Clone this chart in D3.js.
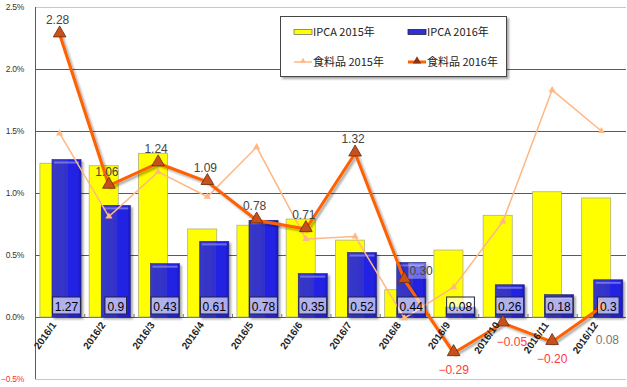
<!DOCTYPE html>
<html>
<head>
<meta charset="utf-8">
<script src="https://cdn.jsdelivr.net/npm/d3@7"></script>
<style>
  body { margin: 0; background: #fff; }
  svg { display: block; font-family: "Liberation Sans", Arial, sans-serif; }
</style>
</head>
<body>
<svg width="627" height="387"></svg>
<script>
// data
var months = ['2016/1', '2016/2', '2016/3', '2016/4', '2016/5', '2016/6',
              '2016/7', '2016/8', '2016/9', '2016/10', '2016/11', '2016/12'];
var ipca2015 = [1.24, 1.22, 1.32, 0.71, 0.74, 0.79, 0.62, 0.22, 0.54, 0.82, 1.01, 0.96];
var ipca2016 = [1.27, 0.9, 0.43, 0.61, 0.78, 0.35, 0.52, 0.44, 0.08, 0.26, 0.18, 0.3];
var food2015 = [1.48, 0.81, 1.17, 0.97, 1.37, 0.63, 0.65, -0.01, 0.24, 0.77, 1.83, 1.50];
var food2016 = [2.28, 1.06, 1.24, 1.09, 0.78, 0.71, 1.32, 0.30, -0.29, -0.05, -0.20, 0.08];
var yTicks = [-0.5, 0, 0.5, 1.0, 1.5, 2.0, 2.5];
var seriesNames = ['IPCA 2015年', 'IPCA 2016年', '食料品 2015年', '食料品 2016年'];

var svg = d3.select('svg');

// shadow filter + blue bar gradient
var defs = svg.append('defs');
var f = defs.append('filter').attr('id', 'shadow')
    .attr('x', '-20%').attr('y', '-20%').attr('width', '150%').attr('height', '150%');
f.append('feDropShadow').attr('dx', 2).attr('dy', 2).attr('stdDeviation', 1.2)
    .attr('flood-color', '#000').attr('flood-opacity', 0.35);

var g1 = defs.append('linearGradient').attr('id', 'blueGrad')
    .attr('x1', '0%').attr('x2', '100%').attr('y1', '0%').attr('y2', '0%');
g1.append('stop').attr('offset', '0%').attr('stop-color', '#3838c4');
g1.append('stop').attr('offset', '55%').attr('stop-color', '#3232cc');
g1.append('stop').attr('offset', '56%').attr('stop-color', '#2424e6');
g1.append('stop').attr('offset', '90%').attr('stop-color', '#2020e0');
g1.append('stop').attr('offset', '100%').attr('stop-color', '#1c1cc0');

// scales
var x = d3.scaleBand().domain(months).range([35, 626]).padding(0);
var y = d3.scaleLinear().domain([-0.5, 2.5]).range([379, 7]);
var bw = x.bandwidth();
var cx = function(i) { return x(months[i]) + bw / 2; };

// gridlines
svg.append('g').selectAll('line')
    .data(yTicks)
    .enter().append('line')
    .attr('x1', 35).attr('x2', 626)
    .attr('y1', d => Math.round(y(d)) + 0.5)
    .attr('y2', d => Math.round(y(d)) + 0.5)
    .attr('stroke', d => (d === 2.5 || d === -0.5) ? '#c8c8c8' : '#5a5a5a')
    .attr('stroke-width', 1);

// left axis line
svg.append('line')
    .attr('x1', 35.5).attr('x2', 35.5).attr('y1', y(2.5)).attr('y2', y(-0.5))
    .attr('stroke', '#5a5a5a');

// y labels
var yAxis = d3.axisLeft(y).tickValues(yTicks).tickSize(0).tickPadding(11)
    .tickFormat(d => d3.format('.1f')(d) + '%');
var ya = svg.append('g').attr('transform', 'translate(35,0)').call(yAxis);
ya.select('.domain').remove();
ya.selectAll('text')
    .attr('font-size', 8.5)
    .attr('letter-spacing', -0.3)
    .attr('font-family', '"Liberation Sans", Arial, sans-serif')
    .attr('fill', d => d < 0 ? '#ff3030' : '#333');

// small ticks at category boundaries
svg.append('g').selectAll('line')
    .data(months.slice(1))
    .enter().append('line')
    .attr('x1', d => x(d) + 0.5).attr('x2', d => x(d) + 0.5)
    .attr('y1', y(0) - 3).attr('y2', y(0))
    .attr('stroke', '#777');

// yellow bars (2015)
svg.append('g').selectAll('rect')
    .data(ipca2015)
    .enter().append('rect')
    .attr('x', (d, i) => x(months[i]) + bw * 0.1)
    .attr('width', bw * 0.59)
    .attr('y', d => y(d))
    .attr('height', d => y(0) - y(d))
    .attr('fill', '#ffff00')
    .attr('stroke', '#b0b080')
    .attr('stroke-width', 0.8);

// blue bars (2016)
var blue = svg.append('g').selectAll('g')
    .data(ipca2016)
    .enter().append('g');
blue.append('rect')
    .attr('x', (d, i) => x(months[i]) + bw * 0.345)
    .attr('width', bw * 0.59)
    .attr('y', d => y(d))
    .attr('height', d => y(0) - y(d))
    .attr('fill', 'url(#blueGrad)')
    .attr('stroke', '#22227a')
    .attr('stroke-width', 0.6)
    .attr('filter', 'url(#shadow)');
blue.append('rect')
    .attr('x', (d, i) => x(months[i]) + bw * 0.345 + 2)
    .attr('width', bw * 0.59 - 4)
    .attr('y', d => y(d) + 2)
    .attr('height', 2)
    .attr('fill', '#8c8cf0')
    .attr('opacity', 0.7);

// lines
var line = d3.line()
    .x((d, i) => cx(i))
    .y(d => y(d));

svg.append('path')
    .datum(food2015)
    .attr('d', line)
    .attr('fill', 'none')
    .attr('stroke', '#ffb784')
    .attr('stroke-width', 1.5);

var tri = d3.symbol().type(d3.symbolTriangle);
svg.append('g').selectAll('path')
    .data(food2015)
    .enter().append('path')
    .attr('d', tri.size(22)())
    .attr('transform', (d, i) => 'translate(' + cx(i) + ',' + y(d) + ')')
    .attr('fill', '#ffb784');

svg.append('path')
    .datum(food2016)
    .attr('d', line)
    .attr('fill', 'none')
    .attr('stroke', '#ff6000')
    .attr('stroke-width', 3)
    .attr('stroke-linejoin', 'round')
    .attr('filter', 'url(#shadow)');

svg.append('g').selectAll('path')
    .data(food2016)
    .enter().append('path')
    .attr('d', tri.size(70)())
    .attr('transform', (d, i) => 'translate(' + cx(i) + ',' + (y(d) - 1) + ')')
    .attr('fill', '#c8501a')
    .attr('stroke', '#6a2a10')
    .attr('stroke-width', 0.8);

// value boxes on the blue bars
var boxes = svg.append('g').selectAll('g')
    .data(ipca2016)
    .enter().append('g')
    .attr('transform', (d, i) => 'translate(' + (x(months[i]) + bw * 0.345 + bw * 0.295) + ',' + (y(0) - 11) + ')');
boxes.each(function(d) {
    var gg = d3.select(this);
    var txt = String(d);
    var w = txt.length * 6.2 + 3;
    gg.append('rect')
        .attr('x', -w / 2).attr('y', -9).attr('width', w).attr('height', 17)
        .attr('fill', 'rgba(255,255,255,0.62)')
        .attr('stroke', '#202040')
        .attr('stroke-width', 1);
    gg.append('text')
        .attr('text-anchor', 'middle').attr('y', 4.5)
        .attr('font-size', 12).attr('fill', '#000')
        .text(txt);
});

// labels of the food 2016 line
function labelPlace(i, d) {
    if (i === 11) return { dx: 6, dy: 37, anchor: 'middle' };
    if (i === 7) return { dx: 5, dy: -5, anchor: 'start' };
    if (d < 0) return { dx: i === 9 ? 9 : 0, dy: d > -0.1 ? 23 : 21, anchor: 'middle' };
    return { dx: -2, dy: -10, anchor: 'middle' };
}
var lab = svg.append('g').selectAll('g')
    .data(food2016)
    .enter().append('g');
lab.each(function(d, i) {
    var p = labelPlace(i, d);
    var gg = d3.select(this);
    var tx = cx(i) + p.dx, ty = y(d) + p.dy;
    if (i === 7) {
        gg.append('rect')
            .attr('x', tx - 1).attr('y', ty - 12).attr('width', 22).attr('height', 16)
            .attr('fill', 'rgba(255,255,255,0.35)');
    }
    gg.append('text')
        .attr('x', tx).attr('y', ty)
        .attr('text-anchor', p.anchor)
        .attr('font-size', 12)
        .attr('fill', d < 0 ? '#ff3b3b' : (i === 11 ? '#777' : '#444'))
        .text(d3.format('.2f')(d));
});

// x labels
svg.append('g').selectAll('text')
    .data(months)
    .enter().append('text')
    .attr('transform', (d, i) => 'translate(' + (cx(i) - 3) + ',' + (y(0) + 8) + ') rotate(-55)')
    .attr('text-anchor', 'end')
    .attr('font-size', 10)
    .attr('font-weight', 'bold')
    .attr('fill', '#222')
    .text(d => d);

// legend
var lg = svg.append('g');
lg.append('rect')
    .attr('x', 280.5).attr('y', 16.5).attr('width', 226).attr('height', 60)
    .attr('fill', '#fff').attr('stroke', '#444')
    .attr('filter', 'url(#shadow)');

var items = [
    { x: 294, y: 32, type: 'bar', fill: '#ffff00', stroke: '#777' },
    { x: 408, y: 32, type: 'bar', fill: '#3030d8', stroke: '#223' },
    { x: 294, y: 62, type: 'line', color: '#ffb784', w: 1.5, m: 14, mc: '#ffb784' },
    { x: 408, y: 62, type: 'line', color: '#ff6000', w: 3, m: 30, mc: '#8a3414' }
];
items.forEach(function(it, k) {
    if (it.type === 'bar') {
        lg.append('rect').attr('x', it.x).attr('y', it.y - 2.5).attr('width', 18).attr('height', 5)
            .attr('fill', it.fill).attr('stroke', it.stroke).attr('stroke-width', 0.8);
    } else {
        lg.append('line').attr('x1', it.x).attr('x2', it.x + 18).attr('y1', it.y).attr('y2', it.y)
            .attr('stroke', it.color).attr('stroke-width', it.w);
        lg.append('path').attr('d', tri.size(it.m)())
            .attr('transform', 'translate(' + (it.x + 9) + ',' + (it.y - 1) + ')')
            .attr('fill', it.mc);
    }
    lg.append('text')
        .attr('x', it.x + 19).attr('y', it.y + 4)
        .attr('font-size', 11)
        .attr('font-family', '"Noto Sans CJK JP", "Liberation Sans", sans-serif')
        .attr('fill', '#222')
        .text(seriesNames[k]);
});
</script>
</body>
</html>
